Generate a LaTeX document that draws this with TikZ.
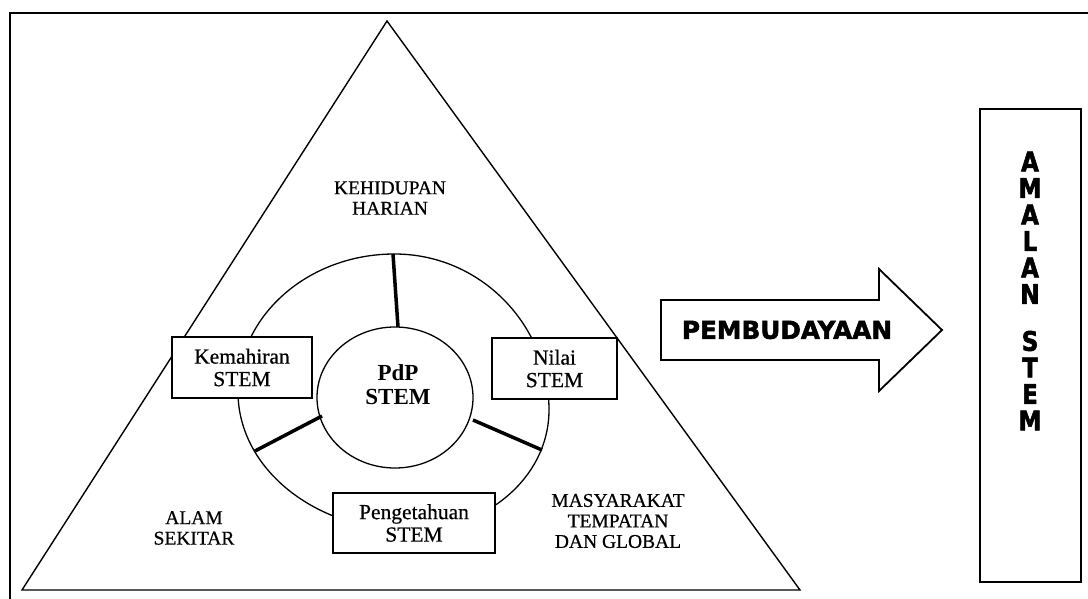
\documentclass[tikz,border=0pt]{standalone}
\usepackage{fontspec}
\setmainfont{Liberation Serif}[UprightFeatures={FakeBold=0.6}]
\newfontfamily\heavyfont{DejaVu Sans}[BoldFeatures={FakeBold=2}]
\newfontfamily\narrowheavy{DejaVu Sans}[FakeStretch=0.85, BoldFeatures={FakeBold=2}]
\usetikzlibrary{shapes.geometric}
\begin{document}
\begin{tikzpicture}[x=1pt,y=-1pt,
  thinline/.style={line width=1.4pt, line join=miter},
  ringline/.style={line width=1.3pt},
  labelbox/.style={draw, line width=1.3pt, fill=white, inner sep=0pt, align=center,
    font=\fontsize{21.5}{22.5}\selectfont},
  region/.style={align=center, inner sep=0pt, font=\fontsize{19.5}{20.5}\selectfont},
  spoke/.style={line width=3.5pt},
]
\useasboundingbox (0,0) rectangle (1088,599);
% frame
\draw[line width=2pt] (1092,13) -- (9.5,13) -- (9.5,604);
% triangle
\draw[thinline] (387,21) -- (22,590) -- (800,590) -- cycle;
% outer ring (four quarter-ellipses)
\draw[ringline] (394.5,254)
  arc[start angle=270, end angle=360, x radius=154.5, y radius=156]
  arc[start angle=0, end angle=90, x radius=139, y radius=120.5]
  arc[start angle=90, end angle=180, x radius=172, y radius=138.5]
  arc[start angle=180, end angle=270, x radius=156.5, y radius=138] -- cycle;
% spokes
\coordinate (s1o) at (393,254);
\coordinate (s1i) at (398,327);
\coordinate (s2o) at (255,451);
\coordinate (s2i) at (322,416);
\coordinate (s3o) at (542,450);
\coordinate (s3i) at (473,420);
\draw[spoke] (s1o) -- (s1i);
\draw[spoke] (s2o) -- (s2i);
\draw[spoke] (s3o) -- (s3i);
% inner ellipse
\node[ellipse, draw, ringline, minimum width=156pt, minimum height=141pt, inner sep=0pt] (pdp) at (395,397.5) {};
\node[align=center, inner sep=0pt, font=\bfseries\fontsize{23}{24}\selectfont] (pdptext) at (398,385) {PdP\\STEM};
% boxes
\node[labelbox, minimum width=140pt, minimum height=61pt] (kem) at (242,367.5) {Kemahiran\\STEM};
\node[labelbox, minimum width=125pt, minimum height=61pt] (nilai) at (554.5,368.5) {Nilai\\STEM};
\node[labelbox, minimum width=162pt, minimum height=60pt] (peng) at (414,523) {Pengetahuan\\STEM};
% region labels
\node[region] (kh) at (390,198) {KEHIDUPAN\\HARIAN};
\node[region] (alam) at (194,528) {ALAM\\SEKITAR};
\node[region] (masy) at (618,521) {MASYARAKAT\\TEMPATAN\\DAN GLOBAL};
% arrow
\draw[line width=1.8pt, line join=miter] (661,300) -- (879,300) -- (879,269) -- (942,330)
  -- (879,391) -- (879,360) -- (661,360) -- cycle;
\node[inner sep=0pt, font=\heavyfont\bfseries\fontsize{24.7}{26}\selectfont] (pemb) at (787,330) {PEMBUDAYAAN};
% right box
\node[draw, line width=1.5pt, minimum width=101pt, minimum height=473pt, inner sep=0pt] (amalbox) at (1030.5,345.5) {};
\node[align=center, inner sep=0pt, font=\narrowheavy\bfseries\fontsize{27}{26.5}\selectfont] (amal) at (1030,291)
  {A\\M\\A\\L\\A\\N\\[20.5pt]S\\T\\E\\M};
\end{tikzpicture}
\end{document}
